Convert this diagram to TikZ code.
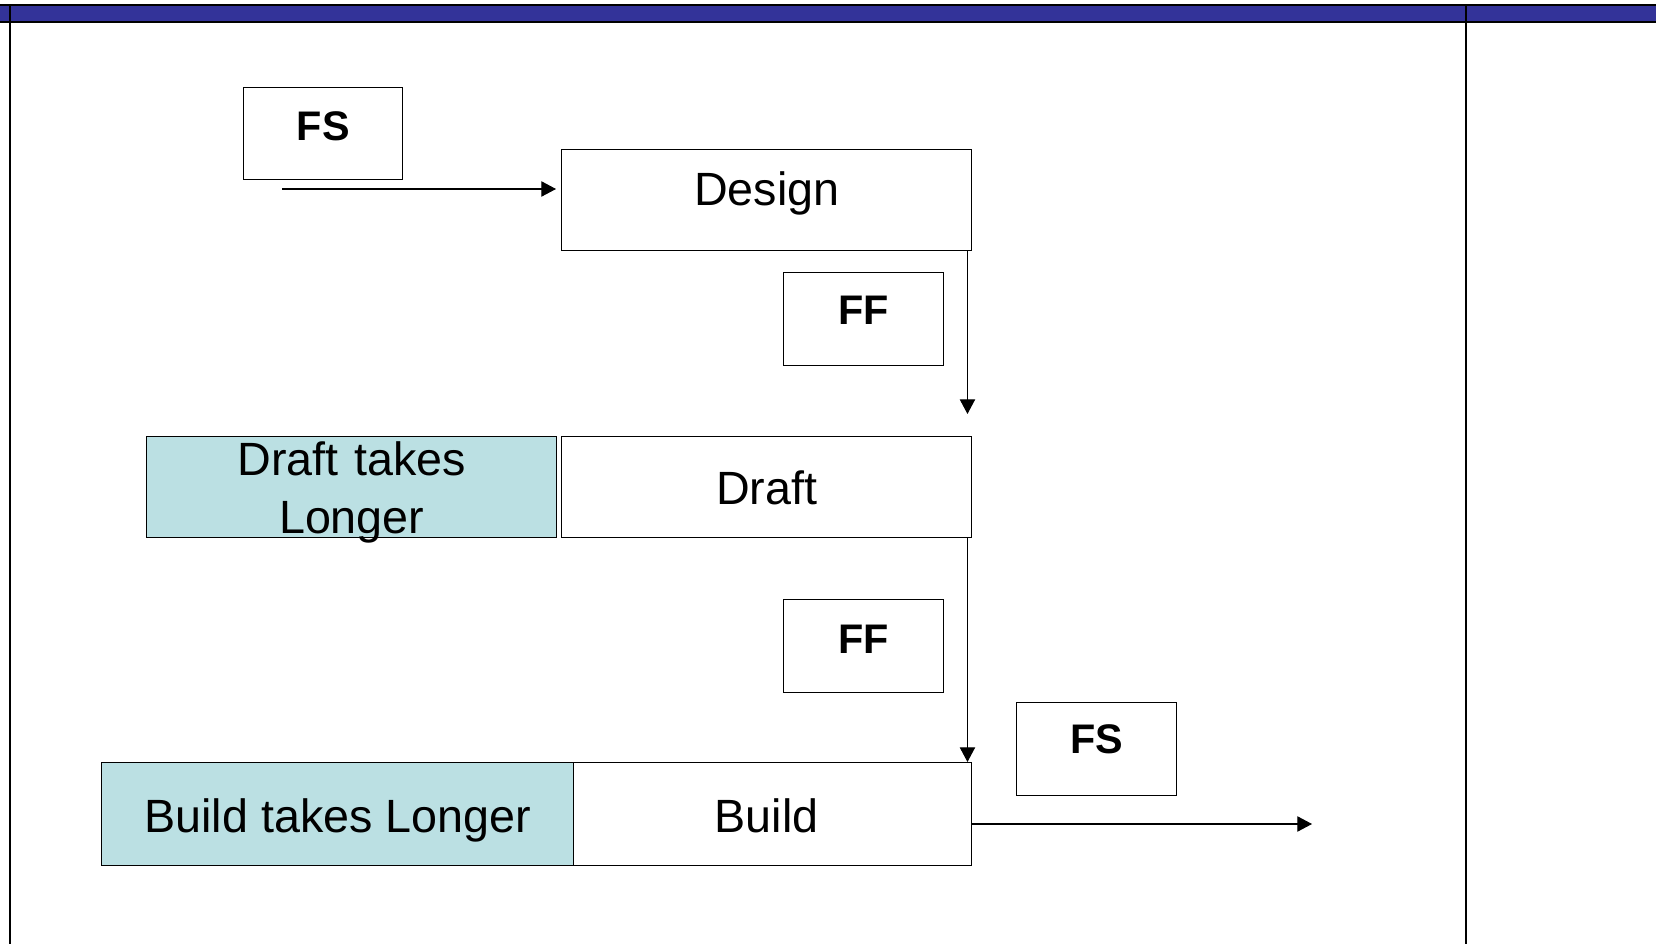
\documentclass[tikz,border=0pt]{standalone}
\usepackage{fontspec}
\setmainfont{Liberation Sans}
\usetikzlibrary{arrows.meta}

\definecolor{barblue}{RGB}{51,51,153}
\definecolor{lagfill}{RGB}{187,224,227}

\tikzset{
  task/.style={draw, line width=1.1pt, inner sep=0pt, minimum height=0pt, anchor=north west,
    font=\fontsize{35}{43.5}\selectfont},
  lag/.style={task, fill=lagfill},
  link/.style={draw, line width=1.1pt, inner sep=0pt, minimum height=0pt, minimum width=120pt,
    anchor=north west, font=\fontsize{31}{36}\selectfont\bfseries},
  flow/.style={line width=0.8pt, -{Triangle[length=11pt,width=11.5pt]}},
  frame/.style={line width=1.3pt}
}

\begin{document}
\begin{tikzpicture}[x=0.75pt,y=0.75pt,yscale=-1,xscale=1]
\useasboundingbox (0,0) rectangle (1656,944);

%Shape: Title bar
\fill[barblue] (0,5) rectangle (1656,22);
\draw[frame] (0,5) -- (1656,5);
\draw[frame] (0,22) -- (1656,22);
%Straight Lines: columns
\draw[frame] (10,5) -- (10,944);
\draw[frame] (1466,5) -- (1466,944);

% Tasks
\node[task, minimum width=307.5pt, text height=42pt, text depth=33.75pt] (design) at (561,149) {Design};
\node[task, minimum width=307.5pt, text height=51pt, text depth=24.75pt] (draft) at (561,436) {Draft};
\node[lag, text width=307.5pt, align=center, text height=29.25pt, text depth=46.5pt] (draftlong) at (146,436) {Draft takes\\Longer};
\node[task, minimum width=307.5pt, text height=52.5pt, text depth=24.75pt] (build) at (561,762) {Build};
% longer part laid over the start of the build bar
\node[lag, minimum width=354pt, text height=52.5pt, text depth=24.75pt] (buildlong) at (101,762) {Build takes Longer};

% Link types
\node[link, minimum width=119.25pt, text height=39.75pt, text depth=29.25pt] (fsA) at (243,87) {FS};
\node[link, text height=39pt, text depth=30.75pt] (ffA) at (783,272) {FF};
\node[link, text height=40.5pt, text depth=29.25pt] (ffB) at (783,599) {FF};
\node[link, text height=38.25pt, text depth=31.5pt] (fsB) at (1016,702) {FS};

% Connectors
\coordinate (start) at (282,189);
\coordinate (finish) at (1312,824);
\draw[flow, shorten >=3.75pt] (start) -- (start -| design.west);
\draw[flow, shorten >=16.5pt] ([xshift=-3.75pt]design.south east) -- ([xshift=-3.75pt]draft.north east);
\draw[flow] ([xshift=-3.75pt]draft.south east) -- ([xshift=-3.75pt]build.north east);
\draw[flow] (build.east |- finish) -- (finish);

\end{tikzpicture}
\end{document}
